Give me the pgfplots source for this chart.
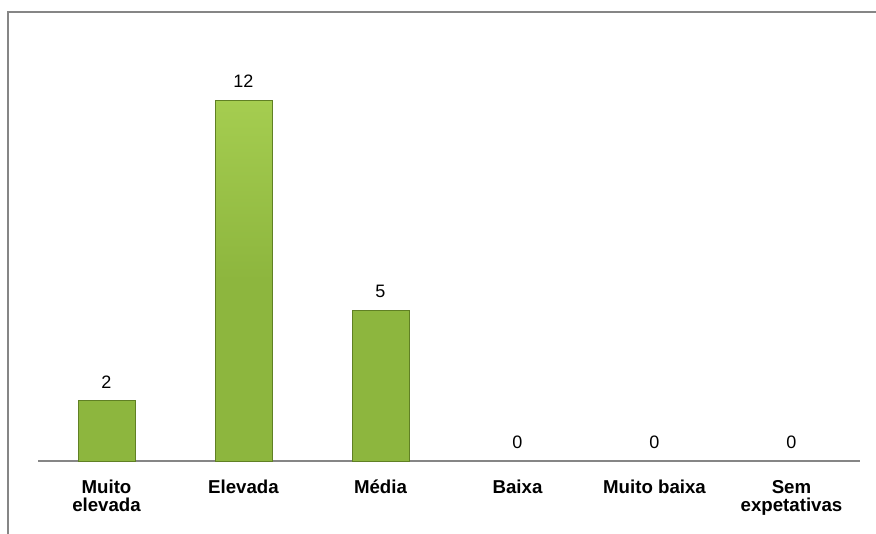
\documentclass[border=0pt]{standalone}
\usepackage{pgfplots}
\pgfplotsset{compat=1.18}
\usepackage{fontspec}
\setmainfont{Liberation Sans}
\definecolor{framegray}{RGB}{134,134,134}
\definecolor{barfill}{RGB}{141,182,62}
\definecolor{barlight}{RGB}{165,205,80}
\definecolor{bardark}{RGB}{96,128,36}
\newcommand{\ts}{\rule{0pt}{11pt}}
\begin{document}
\begin{tikzpicture}
\begin{axis}[
  at={(28.5pt,54.75pt)}, anchor=south west,
  scale only axis,
  width=616.5pt, height=315.75pt,
  xmin=-0.5, xmax=5.5, ymin=0, ymax=14,
  axis x line*=bottom, axis y line=none,
  x axis line style={framegray, line width=1.1pt, -},
  xtick={0,1,2,3,4,5},
  xticklabels={\ts Muito\\elevada, \ts Elevada, \ts Média, \ts Baixa, \ts Muito baixa, \ts Sem\\expetativas},
  xticklabel style={font=\fontsize{14}{13.5}\selectfont\bfseries, align=center, anchor=north, yshift=-10pt},
  major tick length=0pt,
  ybar, bar width=42.75pt, bar shift=0pt,
  nodes near coords,
  nodes near coords style={font=\fontsize{13.5}{15}\selectfont, yshift=6pt},
  /pgf/number format/assume math mode=true,
  clip=false,
]
\addplot[fill=barfill, draw=bardark, line width=0.6pt, top color=barlight, bottom color=barfill, middle color=barfill]
  coordinates {(0,2) (1,12) (2,5)};
\addplot[draw=none, fill=none]
  coordinates {(3,0) (4,0) (5,0)};
\end{axis}
\draw[framegray, line width=1.5pt] (6pt,-5pt) -- (6pt,391.5pt) -- (665pt,391.5pt);
\pgfresetboundingbox
\useasboundingbox (0,0) rectangle (657pt,400.5pt);
\end{tikzpicture}
\end{document}
